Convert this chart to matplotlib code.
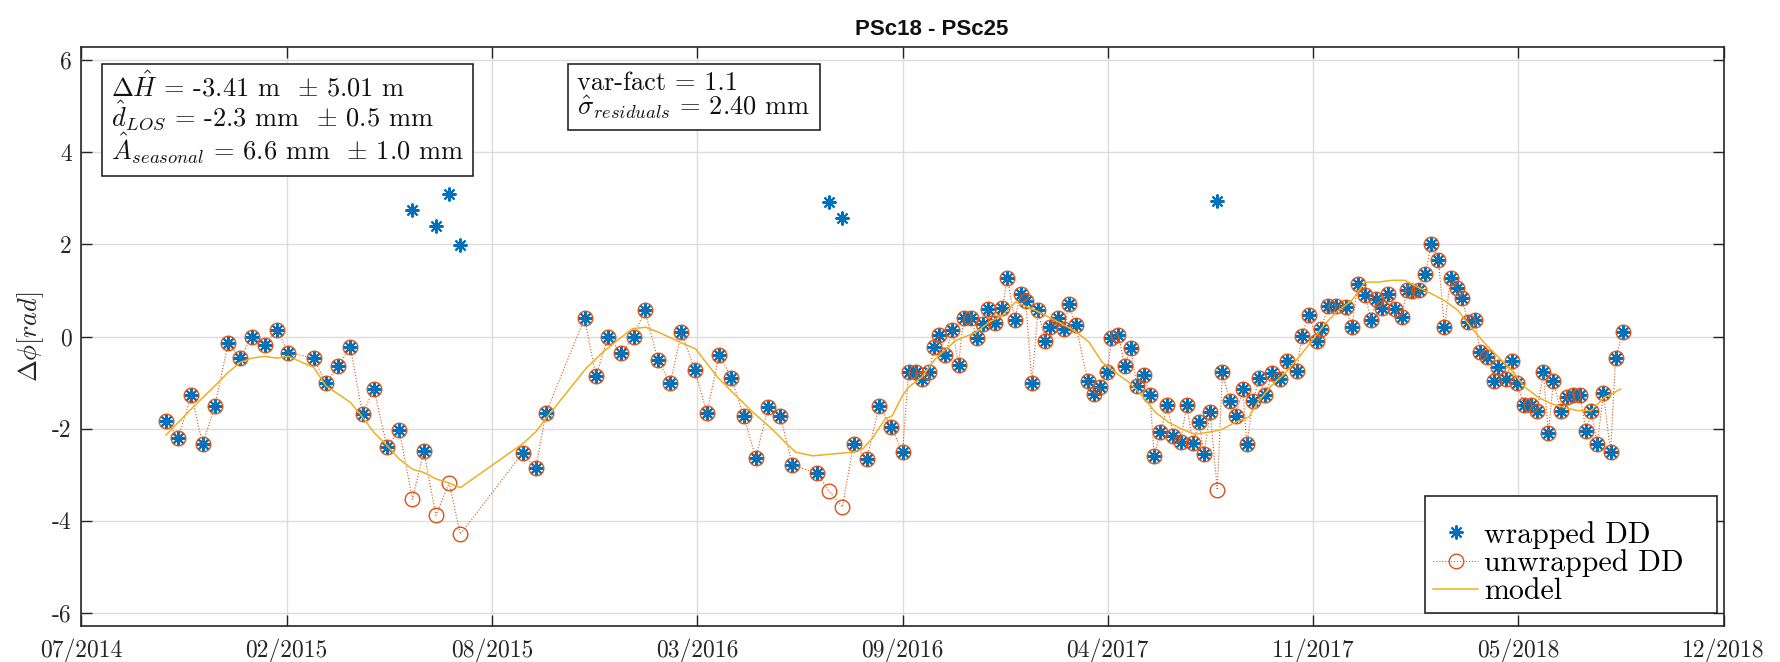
import numpy as np
import matplotlib
matplotlib.use("Agg")
import matplotlib.pyplot as plt
import matplotlib.dates as mdates
from matplotlib.patches import Rectangle

plt.rcParams["font.family"] = "cmr10"
plt.rcParams["mathtext.fontset"] = "cm"
plt.rcParams["axes.unicode_minus"] = False

# ---------------------------------------------------------------- data
first_acq = np.datetime64("2014-10-07")

# temporal baseline of each acquisition [days since first acquisition]
t_days = [
    0, 12, 25, 36, 48, 61, 73, 84, 97, 109, 120, 145, 157, 169, 181, 193, 204,
    217, 229, 242, 253, 265, 278, 289,
    350, 363, 373, 411, 422, 434, 447, 459, 470, 483, 495, 506, 519, 531, 543,
    555, 567, 579, 591, 603, 615, 639, 651, 664, 675, 688, 700, 712,
    723, 729, 736, 742, 749, 754, 759, 765, 772, 778, 783, 790, 796, 802, 807,
    814, 821, 826, 833, 839, 844, 850, 856, 863, 868, 876, 882, 886, 893, 905,
    911, 917, 924, 928, 935, 941, 947, 953, 960, 966, 970, 976, 983, 989, 996,
    1002, 1008, 1014, 1019, 1025, 1032, 1037, 1044, 1050, 1057, 1061, 1067,
    1073, 1079,
    1086, 1094, 1100, 1110, 1115, 1122, 1130, 1134, 1141, 1149, 1158, 1164,
    1170, 1177, 1183, 1188, 1194, 1200, 1206, 1213, 1218, 1223, 1230, 1236,
    1242, 1249, 1255, 1261, 1267, 1272, 1278, 1285, 1290, 1297, 1304, 1308,
    1315, 1321, 1326, 1333, 1340, 1346, 1352, 1357, 1362, 1369, 1375, 1381,
    1388, 1394, 1399, 1405, 1411, 1418, 1423, 1430,
]

# double-difference phase, wrapped to [-pi, pi] [rad]
wrapped_dd = [
    -1.83, -2.20, -1.27, -2.34, -1.51, -0.15, -0.47, -0.01, -0.18, 0.15, -0.35,
    -0.47, -1.02, -0.64, -0.23, -1.69, -1.13, -2.40, -2.04, 2.75, -2.49, 2.40,
    3.10, 1.99,
    -2.53, -2.86, -1.66, 0.40, -0.86, -0.01, -0.36, 0.00, 0.57, -0.51, -1.02,
    0.09, -0.72, -1.66, -0.40, -0.89, -1.72, -2.64, -1.54, -1.72, -2.79, -2.97,
    2.92, 2.58, -2.33, -2.66, -1.51, -1.96,
    -2.51, -0.78, -0.78, -0.93, -0.78, -0.23, 0.04, -0.40, 0.15, -0.61, 0.41,
    0.41, -0.03, 0.28, 0.60, 0.29, 0.62, 1.28, 0.36, 0.93, 0.76, -1.01, 0.57,
    -0.09, 0.20, 0.40, 0.17, 0.71, 0.25, -0.97, -1.25, -1.10, -0.78, -0.04,
    0.04, -0.63, -0.25, -1.08, -0.83, -1.28, -2.59, -2.08, -1.49, -2.17, -2.28,
    -1.49, -2.31, -1.86, -2.55, -1.64, 2.95, -0.78, -1.39, -1.72, -1.14, -2.34,
    -1.41, -0.91, -1.28,
    -0.80, -0.92, -0.54, -0.75, 0.02, 0.47, -0.10, 0.17, 0.67, 0.67, 0.65,
    0.20, 1.15, 0.91, 0.36, 0.82, 0.62, 0.93, 0.60, 0.42, 1.01, 0.99, 1.01,
    1.35, 2.00, 1.67, 0.20, 1.27, 1.05, 0.84, 0.31, 0.35, -0.34, -0.45, -0.96,
    -0.67, -0.92, -0.54, -1.01, -1.48, -1.48, -1.62, -0.78, -2.09, -0.96,
    -1.61, -1.32, -1.26, -1.26, -2.06, -1.62, -2.33, -1.23, -2.51, -0.46, 0.09,
]

# unwrapped double-difference phase [rad]
unwrapped_dd = [
    -1.83, -2.20, -1.27, -2.34, -1.51, -0.15, -0.47, -0.01, -0.18, 0.15, -0.35,
    -0.47, -1.02, -0.64, -0.23, -1.69, -1.13, -2.40, -2.04, -3.53, -2.49,
    -3.88, -3.18, -4.29,
    -2.53, -2.86, -1.66, 0.40, -0.86, -0.01, -0.36, 0.00, 0.57, -0.51, -1.02,
    0.09, -0.72, -1.66, -0.40, -0.89, -1.72, -2.64, -1.54, -1.72, -2.79, -2.97,
    -3.36, -3.70, -2.33, -2.66, -1.51, -1.96,
    -2.51, -0.78, -0.78, -0.93, -0.78, -0.23, 0.04, -0.40, 0.15, -0.61, 0.41,
    0.41, -0.03, 0.28, 0.60, 0.29, 0.62, 1.28, 0.36, 0.93, 0.76, -1.01, 0.57,
    -0.09, 0.20, 0.40, 0.17, 0.71, 0.25, -0.97, -1.25, -1.10, -0.78, -0.04,
    0.04, -0.63, -0.25, -1.08, -0.83, -1.28, -2.59, -2.08, -1.49, -2.17, -2.28,
    -1.49, -2.31, -1.86, -2.55, -1.64, -3.33, -0.78, -1.39, -1.72, -1.14,
    -2.34, -1.41, -0.91, -1.28,
    -0.80, -0.92, -0.54, -0.75, 0.02, 0.47, -0.10, 0.17, 0.67, 0.67, 0.65,
    0.20, 1.15, 0.91, 0.36, 0.82, 0.62, 0.93, 0.60, 0.42, 1.01, 0.99, 1.01,
    1.35, 2.00, 1.67, 0.20, 1.27, 1.05, 0.84, 0.31, 0.35, -0.34, -0.45, -0.96,
    -0.67, -0.92, -0.54, -1.01, -1.48, -1.48, -1.62, -0.78, -2.09, -0.96,
    -1.61, -1.32, -1.26, -1.26, -2.06, -1.62, -2.33, -1.23, -2.51, -0.46, 0.09,
]

# fitted model (height + linear + seasonal terms) [rad]
model_days = [
    0, 25, 48, 61, 73, 84, 97, 109, 120, 145, 157, 169, 181, 193, 204, 217,
    229, 242, 253, 265, 278, 289, 350, 363, 373, 412, 429, 445, 458, 471, 484,
    504, 520, 530, 543, 556, 576, 595, 608, 618, 635, 654, 674, 684, 693, 706,
    713, 723, 729, 742, 755, 775, 795, 808, 821, 834, 853, 873, 893, 906, 919,
    932, 945, 958, 971, 984, 997, 1010, 1023, 1036, 1050, 1063, 1072, 1085,
    1098, 1112, 1125, 1138, 1151, 1164, 1177, 1190, 1203, 1216, 1229, 1242,
    1255, 1268, 1281, 1295, 1308, 1321, 1334, 1347, 1360, 1373, 1386, 1399,
    1412, 1419, 1428,
]
model_vals = [
    -2.14, -1.57, -1.07, -0.78, -0.56, -0.47, -0.43, -0.47, -0.43, -0.67,
    -1.07, -1.25, -1.43, -1.75, -2.08, -2.37, -2.66, -2.88, -2.95, -3.09,
    -3.18, -3.28, -2.33, -2.07, -1.78, -0.70, -0.34, -0.05, 0.17, 0.20, 0.09,
    -0.12, -0.27, -0.56, -0.92, -1.21, -1.64, -2.01, -2.30, -2.51, -2.59,
    -2.55, -2.51, -2.44, -2.22, -1.79, -1.72, -1.28, -1.10, -0.88, -0.49,
    -0.09, 0.09, 0.31, 0.46, 0.75, 0.57, 0.35, 0.11, -0.12, -0.56, -0.78,
    -0.99, -1.28, -1.64, -1.86, -2.01, -2.12, -2.08, -2.02, -1.86, -1.75,
    -1.42, -1.07, -0.81, -0.45, -0.09, 0.28, 0.57, 0.78, 1.18, 1.18, 1.22,
    1.22, 1.07, 0.93, 0.78, 0.57, 0.20, -0.16, -0.45, -0.74, -1.10, -1.32,
    -1.46, -1.54, -1.61, -1.61, -1.32, -1.25, -1.14,
]

x_ticklabels = ["07/2014", "02/2015", "08/2015", "03/2016", "09/2016",
                "04/2017", "11/2017", "05/2018", "12/2018"]
y_ticks = [-6, -4, -2, 0, 2, 4, 6]
y_ticklabels = ["-6", "-4", "-2", "0", "2", "4", "6"]

title = "PSc18 - PSc25"
fit_lines = [
    r"$\Delta\hat{H}$ = -3.41 m  $\pm$ 5.01 m",
    r"$\hat{d}_{LOS}$ = -2.3 mm  $\pm$ 0.5 mm",
    r"$\hat{A}_{seasonal}$ = 6.6 mm  $\pm$ 1.0 mm",
]
stat_lines = [
    r"var-fact = 1.1",
    r"$\hat{\sigma}_{residuals}$ = 2.40 mm",
]

# ---------------------------------------------------------------- plot
dates = first_acq + np.array(t_days).astype("timedelta64[D]")
model_dates = first_acq + np.array(model_days).astype("timedelta64[D]")

BLUE, ORANGE, YELLOW = "#0072BD", "#D95319", "#EDB120"
AXC = "#262626"

W, H = 1781, 662
fig = plt.figure(figsize=(W / 100, H / 100), dpi=100)
fig.patch.set_facecolor("white")
AX_L, AX_R, AX_T, AX_B = 81.4, 1723.6, 47.0, 626.0
ax = fig.add_axes([AX_L / W, 1 - AX_B / H, (AX_R - AX_L) / W,
                   (AX_B - AX_T) / H])


def ax_frac(px, py):
    """Pixel position in the figure -> axes fraction."""
    return (px - AX_L) / (AX_R - AX_L), (AX_B - py) / (AX_B - AX_T)


ax.plot(dates, wrapped_dd, linestyle="none", marker=(8, 2, 0), ms=10,
        mew=1.5, color=BLUE, label="wrapped DD", zorder=3)
ax.plot(dates, unwrapped_dd, linestyle=":", lw=0.8, color=ORANGE,
        marker="o", ms=10.5, mfc="none", mew=1.0, label="unwrapped DD",
        zorder=4)
ax.plot(model_dates, model_vals, color=YELLOW, lw=1.1, label="model",
        zorder=5)

xlim = (np.datetime64("2014-07-16"), np.datetime64("2018-12-14"))
ax.set_xlim(xlim)
x0, x1 = mdates.date2num(xlim[0]), mdates.date2num(xlim[1])
ax.set_xticks(np.linspace(x0, x1, len(x_ticklabels)))
ax.set_xticklabels(x_ticklabels)
ax.set_ylim(-2 * np.pi, 2 * np.pi)
ax.set_yticks(y_ticks)
ax.set_yticklabels(y_ticklabels)

ax.grid(True, color="#dcdcdc", lw=1.0)
ax.set_axisbelow(True)
ax.tick_params(direction="in", length=8, width=1.0, color=AXC, top=True,
               right=True, labelsize=17, labelcolor=AXC)
ax.tick_params(axis="x", pad=9)
ax.tick_params(axis="y", pad=7)
for sp in ax.spines.values():
    sp.set_color(AXC)
    sp.set_linewidth(1.2)

fig.text(932 / W, 1 - 35 / H, title, family="Liberation Sans",
         weight="bold", fontsize=16, ha="center", va="baseline",
         color="#111111")
ax.set_ylabel(r"$\Delta\phi[rad]$", fontsize=19, labelpad=4, color=AXC)

box = dict(boxstyle="square,pad=0.35", fc="white", ec=AXC, lw=1.2)
ax.text(0.018, 0.958, "\n".join(fit_lines), transform=ax.transAxes,
        ha="left", va="top", fontsize=19, linespacing=0.9, bbox=box,
        color="#111111", zorder=6)
ax.text(0.302, 0.958, "\n".join(stat_lines), transform=ax.transAxes,
        ha="left", va="top", fontsize=19, linespacing=0.9, bbox=box,
        color="#111111", zorder=6)

# legend entries, with the box drawn separately
lx0, ly0 = ax_frac(1425.5, 613.4)
lx1, ly1 = ax_frac(1717.4, 496.0)
ax.add_patch(Rectangle((lx0, ly0), lx1 - lx0, ly1 - ly0,
                       transform=ax.transAxes, fc="white", ec=AXC, lw=1.2,
                       zorder=7))
ax_x, ax_y = ax_frac(1424.5, 512.0)
leg = ax.legend(loc="upper left", bbox_to_anchor=(ax_x, ax_y),
                borderaxespad=0, fontsize=21.5, labelspacing=0.02,
                handlelength=1.5, handletextpad=0.2, borderpad=0.3,
                frameon=False)
leg.set_zorder(8)

fig.savefig("out.png", dpi=100)
